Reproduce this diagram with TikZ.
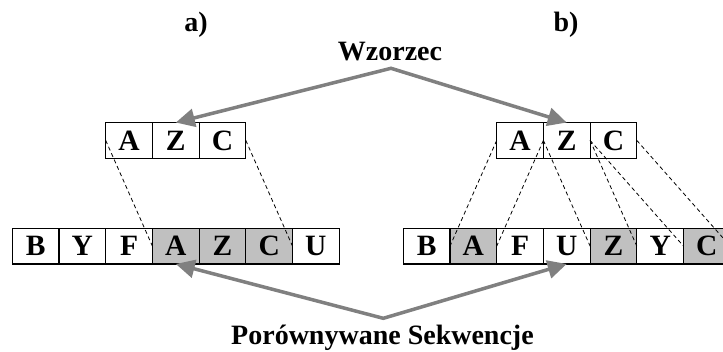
\documentclass[tikz,border=0pt]{standalone}
\usepackage{fontspec}
\setmainfont{Liberation Serif}
\usetikzlibrary{arrows.meta}
\definecolor{matchfill}{RGB}{192,192,192}
\definecolor{pointergray}{RGB}{128,128,128}
\begin{document}
\begin{tikzpicture}[x=1pt,y=-1pt,
  cell/.style={draw=black, line width=1.2pt, minimum width=46.7pt, minimum height=35.7pt,
    inner sep=0pt, outer sep=0pt, font=\fontsize{29.5}{32}\selectfont\bfseries},
  hit/.style={cell, fill=matchfill},
  guide/.style={line width=0.8pt, dash pattern=on 4pt off 3pt},
  pointer/.style={draw=pointergray, line width=3.5pt, line join=miter,
    {Triangle[length=19pt,width=18pt]}-{Triangle[length=19pt,width=18pt]}},
  caption/.style={font=\fontsize{28}{31}\selectfont\bfseries, anchor=base, inner sep=0pt}]
\useasboundingbox (0,0) rectangle (723,351);

% panel labels and captions
\node[caption] (lblA) at (196,31.5) {a)};
\node[caption] (lblB) at (566,31.5) {b)};
\node[caption] (pattern) at (390,60) {Wzorzec};
\node[caption] (compared) at (382.5,344.3) {Porównywane Sekwencje};

% a) pattern and sequence
\foreach \t [count=\i] in {A,Z,C}
  \node[cell] (la\i) at ({105.7+(\i-0.5)*46.7},140.4) {\t};
\foreach \t/\s [count=\i] in {B/cell,Y/cell,F/cell,A/hit,Z/hit,C/hit,U/cell}
  \node[\s] (lb\i) at ({12.3+(\i-0.5)*46.7},246.1) {\t};

% b) pattern and sequence
\foreach \t [count=\i] in {A,Z,C}
  \node[cell] (ra\i) at ({496.7+(\i-0.5)*46.7},140.4) {\t};
\foreach \t/\s [count=\i] in {B/cell,A/hit,F/cell,U/cell,Z/hit,Y/cell,C/hit}
  \node[\s] (rb\i) at ({403.3+(\i-0.5)*46.7},246.1) {\t};

% alignment guides
\draw[guide] (la1.west) -- (lb4.west);
\draw[guide] (la3.east) -- (lb6.east);
\draw[guide] (ra1.west) -- (rb2.west);
\draw[guide] (ra2.west) -- (rb3.west);
\draw[guide] (ra2.west) -- (rb5.west);
\draw[guide] (ra3.west) -- (rb5.east);
\draw[guide] (ra3.west) -- (rb7.west);
\draw[guide] (ra3.east) -- (rb7.east);

% pointers from the captions
\coordinate (topfork) at (391,68.3);
\coordinate (botfork) at (383.3,318.3);
\draw[pointer] (la2.north) -- (topfork) -- (ra2.north);
\draw[pointer] (lb4.south) -- (botfork) -- (rb4.south);
\end{tikzpicture}
\end{document}
